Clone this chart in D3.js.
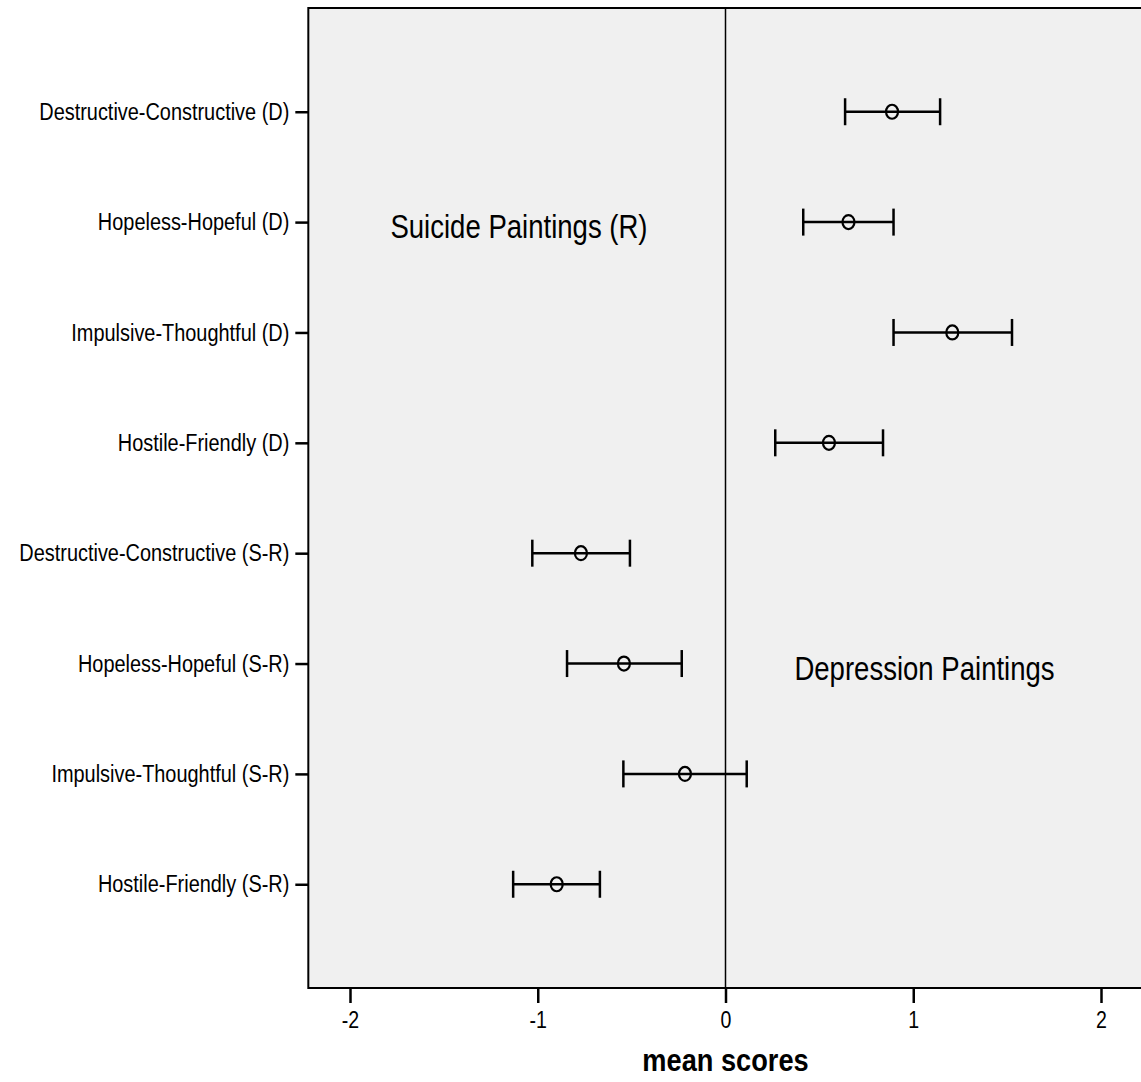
<!DOCTYPE html>
<html><head><meta charset="utf-8">
<script src="https://cdn.jsdelivr.net/npm/d3@7"></script>
<style>
body{margin:0;background:#fff;}
svg text{font-family:'Liberation Sans Narrow','Arial Narrow','Liberation Sans',Arial,sans-serif;fill:#000;}
</style></head>
<body><svg id="c" width="1141" height="1082"></svg>
<script>
const categories = [
  "Destructive-Constructive (D)",
  "Hopeless-Hopeful (D)",
  "Impulsive-Thoughtful (D)",
  "Hostile-Friendly (D)",
  "Destructive-Constructive (S-R)",
  "Hopeless-Hopeful (S-R)",
  "Impulsive-Thoughtful (S-R)",
  "Hostile-Friendly (S-R)"
];
const means = [0.887, 0.655, 1.208, 0.551, -0.770, -0.541, -0.216, -0.899];
const lower = [0.637, 0.414, 0.895, 0.265, -1.029, -0.844, -0.544, -1.131];
const upper = [1.143, 0.895, 1.526, 0.839, -0.509, -0.233, 0.113, -0.669];
const xTicks = [-2, -1, 0, 1, 2];
const xTitle = "mean scores";
const annotations = [
  {text: "Suicide Paintings (R)", x: -1.1, row: "Hopeless-Hopeful (D)"},
  {text: "Depression Paintings", x: 1.06, row: "Hopeless-Hopeful (S-R)"}
];

(function(){
const svg = d3.select("#c");
const W = 1141;
const x = d3.scaleLinear().domain([-2, 2]).range([350, 1101]);
const y = d3.scalePoint().domain(categories).range([8, 988]).padding(0.94);
const pLeft = x(-2.222), pTop = 8, pBottom = 988;

// horizontally condense text around its anchor point
function narrow(sel, k) {
  sel.each(function(){
    const t = d3.select(this);
    const ax = +t.attr("x") || 0, ay = +t.attr("y") || 0;
    t.attr("transform", `translate(${ax},${ay}) scale(${k},1) translate(${-ax},${-ay})`);
  });
}

svg.append("rect").attr("x", pLeft).attr("y", pTop)
  .attr("width", W + 20 - pLeft).attr("height", pBottom - pTop)
  .attr("fill", "#f0f0f0").attr("stroke", "#000").attr("stroke-width", 2);

svg.append("line").attr("x1", x(0)).attr("x2", x(0)).attr("y1", pTop).attr("y2", pBottom)
  .attr("stroke", "#000").attr("stroke-width", 1.5);

const xAxis = d3.axisBottom(x).tickValues(xTicks).tickSize(15).tickPadding(9)
  .tickFormat(d => String(d));
const gx = svg.append("g").attr("transform", `translate(0,${pBottom})`).call(xAxis);
gx.select(".domain").remove();
gx.selectAll(".tick line").attr("stroke", "#000").attr("stroke-width", 2.5);
gx.selectAll(".tick text").style("font-size", "23px").attr("fill", "#000").call(narrow, 0.85);

svg.append("text").attr("x", x(0)).attr("y", 1071).attr("text-anchor", "middle")
  .style("font-size", "32px").style("font-weight", "bold").text(xTitle).call(narrow, 0.85);

const yAxis = d3.axisLeft(y).tickSize(13).tickPadding(6);
const gy = svg.append("g").attr("transform", `translate(${pLeft},0)`).call(yAxis);
gy.select(".domain").remove();
gy.selectAll(".tick line").attr("stroke", "#000").attr("stroke-width", 2.5);
gy.selectAll(".tick text").style("font-size", "24px").attr("fill", "#000").call(narrow, 0.83);

const data = categories.map((c, i) => ({c, m: means[i], lo: lower[i], hi: upper[i]}));
const g = svg.append("g").attr("stroke", "#000").attr("stroke-width", 2.5).attr("fill", "none");
g.selectAll("line.bar").data(data).join("line").attr("class", "bar")
  .attr("x1", d => x(d.lo)).attr("x2", d => x(d.hi))
  .attr("y1", d => y(d.c)).attr("y2", d => y(d.c));
g.selectAll("line.capl").data(data).join("line").attr("class", "capl")
  .attr("x1", d => x(d.lo)).attr("x2", d => x(d.lo))
  .attr("y1", d => y(d.c) - 13.5).attr("y2", d => y(d.c) + 13.5);
g.selectAll("line.caph").data(data).join("line").attr("class", "caph")
  .attr("x1", d => x(d.hi)).attr("x2", d => x(d.hi))
  .attr("y1", d => y(d.c) - 13.5).attr("y2", d => y(d.c) + 13.5);
g.selectAll("ellipse").data(data).join("ellipse")
  .attr("cx", d => x(d.m)).attr("cy", d => y(d.c))
  .attr("rx", 6).attr("ry", 7).attr("stroke-width", 2.2);

svg.selectAll("text.ann").data(annotations).join("text").attr("class", "ann")
  .attr("x", d => x(d.x)).attr("y", d => y(d.row) + 16)
  .attr("text-anchor", "middle").style("font-size", "33px").text(d => d.text)
  .call(narrow, 0.835);
})();
</script></body></html>
